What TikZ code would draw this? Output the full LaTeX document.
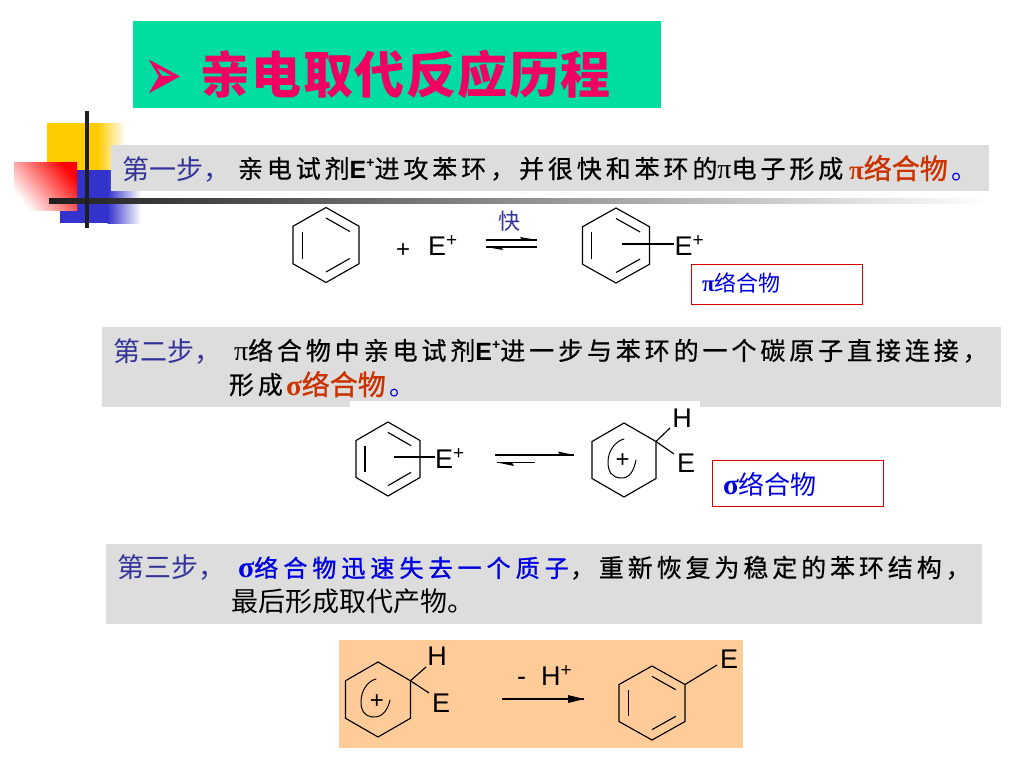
\documentclass[tikz,border=0pt]{standalone}
\usepackage{fontspec}
\usetikzlibrary{calc,arrows.meta}
\setmainfont{Noto Sans CJK SC}
\newfontfamily\cjks[LetterSpace=15.6,FakeBold=0.6]{Noto Sans CJK SC}
\newfontfamily\cjkblue[LetterSpace=21,FakeBold=1.2]{Noto Sans CJK SC}
\newfontfamily\cjkt[LetterSpace=3]{Noto Sans CJK SC}
\newfontfamily\cjkh[FakeBold=1.2]{Noto Sans CJK SC}
\newfontfamily\latn{Liberation Sans}
\newfontfamily\grk{Liberation Serif}
\newfontfamily\dej[FakeBold=1.2]{DejaVu Sans}
\definecolor{stepblue}{HTML}{333399}
\definecolor{accent}{HTML}{CC3300}
\definecolor{band}{HTML}{DDDDDD}
\definecolor{titlebg}{HTML}{00DDA0}
\definecolor{titlefg}{HTML}{F00060}
\definecolor{panel}{HTML}{FFCC99}
\definecolor{boxblue}{HTML}{0000E0}
\definecolor{decoyellow}{HTML}{FFCC00}
\definecolor{decoblue}{HTML}{3333CC}
\newcommand{\fs}[1]{\fontsize{#1}{#1}\selectfont}
\newcommand{\supplus}[1]{\raisebox{0.32em}{\fs{#1}+}}
\newcommand{\bodyE}{{\latn\fs{25}\bfseries E\raisebox{0.42em}{\fs{14}+}}}
\newcommand{\pisym}[1]{{\grk\bfseries\fs{#1}π}}
\newcommand{\sigsym}[1]{{\grk\bfseries\fs{#1}σ}}
% hexagon: name, cx, cy, half width, radius
\newcommand{\hexring}[5]{%
  \coordinate (#1c) at (#2,#3);
  \coordinate (#11) at (#2,#3-#5);
  \coordinate (#12) at (#2+#4,#3-#5/2);
  \coordinate (#13) at (#2+#4,#3+#5/2);
  \coordinate (#14) at (#2,#3+#5);
  \coordinate (#15) at (#2-#4,#3+#5/2);
  \coordinate (#16) at (#2-#4,#3-#5/2);
  \draw[bond] (#11)--(#12)--(#13)--(#14)--(#15)--(#16)--cycle;}
\newcommand{\kekule}[1]{%
  \draw[bond] ($(#1c)!.72!(#11)$)--($(#1c)!.72!(#12)$);
  \draw[bond] ($(#1c)!.72!(#13)$)--($(#1c)!.72!(#14)$);
  \draw[bond] ($(#1c)!.72!(#15)$)--($(#1c)!.72!(#16)$);}
\tikzset{
  x=1pt,y=-1pt,
  bond/.style={draw=black,line width=1.15pt,line join=miter},
  txt/.style={anchor=base west,inner sep=0pt,outer sep=0pt,text=black},
  chem/.style={inner sep=0pt,outer sep=0pt,text=black,font=\latn\fs{27}},
  tagbox/.style={draw=red!85!black,line width=1pt,fill=white,anchor=north west,inner sep=0pt,outer sep=0pt},
}
\begin{document}
\begin{tikzpicture}
\useasboundingbox (0,0) rectangle (1024,768);
\fill[white] (0,0) rectangle (1024,768);
% title
\fill[titlebg] (133,21) rectangle (661,108);
\node[txt,text=titlefg,font=\dej\fs{36}] (bullet) at (145,99) {\scalebox{1.2}[2]{➢}};
\node[txt,text=titlefg,font=\cjkt\bfseries\fs{50}] (title) at (200,93) {亲电取代反应历程};
% corner decoration
\fill[decoyellow] (47,123) rectangle (98,170);
\shade[left color=decoyellow,right color=white] (97.5,123) rectangle (125,170);
\fill[decoblue] (60,170) rectangle (108,223);
\shade[left color=decoblue,right color=white] (107.5,170) rectangle (141,223);
\shade[top color=red,bottom color=white,shading angle=-50] (14,162) rectangle (77,210);
\shade[left color=black!88,right color=white] (49,198.5) rectangle (990,203.5);
\fill[black!88] (85,111) rectangle (89,228);
% bands
\fill[band] (111,145) rectangle (989,191);
\fill[band] (102,327) rectangle (1001,407);
\fill[white] (350,401) rectangle (700,408);
\fill[band] (106,544) rectangle (982,624);
\fill[panel] (339,640) rectangle (743,748);
% step 1
\node[txt,text=stepblue,font=\fs{27}] (s1) at (122,179) {第一步，};
\node[txt,font=\cjks\fs{25}] (s1b) at (238,178) {亲电试剂\bodyE 进攻苯环，并很快和苯环的{\grk\fs{28}π}电子形成};
\node[txt,text=accent,font=\cjkh\fs{28}] (s1c) at (849,179) {\pisym{27}络合物};
\node[txt,text=boxblue,font=\fs{26}] (s1d) at (951,179) {。};
% step 2
\node[txt,text=stepblue,font=\fs{27}] (s2) at (113,361) {第二步，};
\node[txt,font=\cjks\fs{25}] (s2b) at (234,360) {{\grk\fs{28}π}络合物中亲电试剂\bodyE 进一步与苯环的一个碳原子直接连接，};
\node[txt,font=\cjks\fs{25}] (s2c) at (229,394) {形成};
\node[txt,text=accent,font=\cjkh\fs{28}] (s2d) at (286,395) {\sigsym{29}络合物};
\node[txt,text=boxblue,font=\fs{26}] (s2e) at (389,395) {。};
% step 3
\node[txt,text=stepblue,font=\fs{27}] (s3) at (117,577) {第三步，};
\node[txt,text=boxblue,font=\cjkblue\fs{24}] (s3b) at (238,577) {\sigsym{30}络合物迅速失去一个质子};
\node[txt,font=\cjks\fs{25}] (s3c) at (570,577) {，重新恢复为稳定的苯环结构，};
\node[txt,font=\fs{27}] (s3d) at (231,611) {最后形成取代产物。};
% reaction 1
\hexring{a}{326}{245}{33}{37.5}\kekule{a}
\node[txt,font=\latn\fs{24}] (plus1) at (396,257) {+};
\node[txt,font=\latn\fs{27}] (ea) at (428,255) {E\supplus{19}};
\node[txt,text=stepblue,anchor=center,font=\fs{22}] (fast) at (509,221) {快};
\coordinate (r1a) at (486,240); \coordinate (r1b) at (537,240);
\coordinate (r1c) at (537,247); \coordinate (r1d) at (486,247);
\draw[line width=1.25pt] (r1a)--(r1b);
\draw[line width=1.25pt] (r1c)--(r1d);
\fill (r1b)--++(-17,-3)--++(2,3)--cycle;
\fill (r1d)--++(17,3)--++(-2,-3)--cycle;
\hexring{b}{616}{245.5}{33.5}{37.5}\kekule{b}
\node[txt,font=\latn\fs{27}] (eb) at (674.5,255) {E\supplus{19}};
\coordinate (bb) at (622,244); \coordinate (be) at (674,244);
\draw[bond] (bb)--(be);
\node[tagbox,minimum width=171pt,minimum height=39.5pt] (pibox) at (691,264.5) {};
\node[txt,text=boxblue,font=\fs{22}] (pit) at (702,291) {\pisym{23}络合物};
% reaction 2
\hexring{c}{388}{459}{32}{37}\kekule{c}
\coordinate (cb) at (394,457); \coordinate (ce) at (435,457);
\draw[bond] (cb)--(ce);
\node[txt,font=\latn\fs{27}] (ec) at (435,468) {E\supplus{19}};
\coordinate (r2a) at (495,455); \coordinate (r2b) at (574,455);
\coordinate (r2c) at (535,462.5); \coordinate (r2d) at (497,462.5);
\draw[line width=1.25pt] (r2a)--(r2b);
\draw[line width=1.25pt] (r2c)--(r2d);
\fill (r2b)--++(-16,-3.5)--++(2,3.5)--cycle;
\fill (r2d)--++(17,3.5)--++(-2,-3.5)--cycle;
\hexring{d}{624}{460}{32}{37}
\draw[line width=1pt,line cap=round] (624,439) .. controls (616,441) and (608,450) .. (608,462) .. controls (608,472) and (612,477) .. (620,478) .. controls (630,479) and (634,470) .. (636,460);
\node[anchor=center,inner sep=0pt,font=\latn\fs{24}] (pd) at (622.5,461) {+};
\node[chem] (hd) at (682,418) {H};
\node[chem] (ed) at (686,463) {E};
\coordinate (dh) at (670,428); \coordinate (de) at (674,454);
\draw[bond] (d2)--(dh);
\draw[bond] (d2)--(de);
\node[tagbox,minimum width=171pt,minimum height=45.5pt] (sigbox) at (712.5,460.5) {};
\node[txt,text=boxblue,font=\fs{26}] (sigt) at (723,494) {\sigsym{29}络合物};
% reaction 3
\hexring{e}{378}{699.5}{32.5}{37.5}
\draw[line width=1pt,line cap=round] (376,679) .. controls (368,681) and (361,690) .. (361,702) .. controls (361,711) and (365,716) .. (372,717) .. controls (383,718) and (388,709) .. (390,700);
\node[anchor=center,inner sep=0pt,font=\latn\fs{24}] (pe) at (377,702) {+};
\node[chem] (he) at (437,656) {H};
\node[chem] (ee) at (441,703) {E};
\coordinate (eh) at (426,667); \coordinate (eE) at (429,693);
\draw[bond] (e2)--(eh);
\draw[bond] (e2)--(eE);
\node[txt,font=\latn\fs{27}] (minus) at (517,685) {-};
\node[txt,font=\latn\fs{27}] (hp) at (541,685) {H\supplus{19}};
\coordinate (r3a) at (502,699); \coordinate (r3b) at (584,699);
\draw[line width=1.25pt] (r3a)--(r3b);
\fill (r3b)--++(-16,-4)--++(0,8)--cycle;
\hexring{f}{652}{703}{33}{37}\kekule{f}
\node[chem] (ef) at (729,659) {E};
\coordinate (fE) at (717,665);
\draw[bond] (f2)--(fE);
\end{tikzpicture}
\end{document}
